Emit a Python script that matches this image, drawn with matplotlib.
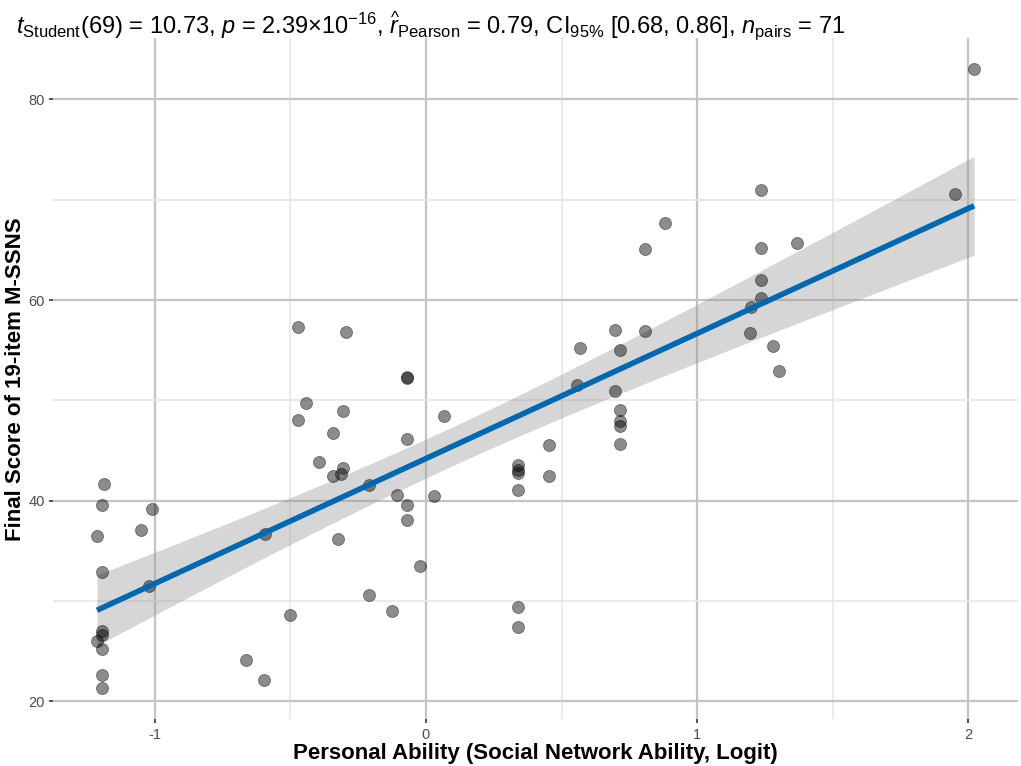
import numpy as np
import matplotlib
matplotlib.use("Agg")
import matplotlib.pyplot as plt

# values
ability = [-1.186, -1.194, -1.213, -1.193, -1.011, -1.049, -1.021, -1.193, -1.193, -1.213,
           -1.193, -1.193, -1.193, -0.665, -0.597, -0.593, -0.503, -0.443, -0.471, -0.304,
           -0.344, -0.396, -0.304, -0.314, -0.344, -0.210, -0.107, -0.069, -0.069, -0.069,
           -0.325, -0.022, -0.209, -0.124, 0.031, 0.066, -0.068, -0.068, -0.471, -0.296,
           0.341, 0.341, 0.341, 0.341, 0.455, 0.455, 0.341, 0.341, 0.568, 0.556,
           0.697, 0.808, 0.717, 0.697, 0.717, 0.717, 0.717, 0.717, 2.021, 1.237,
           0.882, 0.807, 1.234, 1.369, 1.951, 1.237, 1.234, 1.198, 1.196, 1.279, 1.303]
score = [41.7, 39.6, 36.5, 32.9, 39.2, 37.1, 31.5, 27.0, 26.6, 26.0,
         25.2, 22.6, 21.3, 24.1, 22.1, 36.7, 28.6, 49.75, 48.0, 48.9,
         46.7, 43.9, 43.3, 42.7, 42.5, 41.6, 40.6, 39.6, 38.1, 46.1,
         36.2, 33.5, 30.6, 29.0, 40.5, 48.4, 52.3, 52.2, 57.3, 56.8,
         43.6, 43.1, 42.8, 41.1, 45.6, 42.5, 29.4, 27.4, 55.2, 51.5,
         57.0, 56.9, 55.0, 50.9, 49.05, 47.9, 47.4, 45.7, 83.0, 71.0,
         67.7, 65.1, 65.2, 65.7, 70.6, 62.0, 60.2, 59.3, 56.7, 55.4, 52.9]

x_ticks = [-1, 0, 1, 2]
y_ticks = [20, 40, 60, 80]

plt.rcParams['font.family'] = ['Liberation Sans', 'DejaVu Sans']
plt.rcParams['mathtext.fontset'] = 'custom'
plt.rcParams['mathtext.rm'] = 'Liberation Sans'
plt.rcParams['mathtext.it'] = 'Liberation Sans:italic'
plt.rcParams['mathtext.bf'] = 'Liberation Sans:bold'

x = np.array(ability)
y = np.array(score)

# linear fit + 95% confidence band (like geom_smooth(method = "lm"))
n = len(x)
b, a = np.polyfit(x, y, 1)
xs = np.linspace(x.min(), x.max(), 200)
ys = a + b * xs
resid = y - (a + b * x)
s = np.sqrt(np.sum(resid ** 2) / (n - 2))
se = s * np.sqrt(1 / n + (xs - x.mean()) ** 2 / np.sum((x - x.mean()) ** 2))
tval = 1.9949  # t(0.975, 69)
lo = ys - tval * se
hi = ys + tval * se

fig = plt.figure(figsize=(10.21, 7.66), dpi=100)
ax = fig.add_axes([0.052, 0.061, 0.945, 0.889])

ax.fill_between(xs, lo, hi, color='#999999', alpha=0.4, linewidth=0, zorder=2)
ax.scatter(x, y, s=75, color='black', alpha=0.45, edgecolors='black',
           linewidths=0.6, zorder=3)
ax.plot(xs, ys, color='#0068B0', linewidth=4, solid_capstyle='butt', zorder=4)

xr = x.max() - x.min()
yr = y.max() - y.min()
ax.set_xlim(x.min() - 0.05 * xr, x.max() + 0.05 * xr)
ax.set_ylim(y.min() - 0.05 * yr, y.max() + 0.05 * yr)

ax.set_xticks(x_ticks)
ax.set_xticklabels([str(t) for t in x_ticks])
ax.set_yticks(y_ticks)
ax.set_yticklabels([str(t) for t in y_ticks])
ax.set_xticks([-0.5, 0.5, 1.5], minor=True)
ax.set_yticks([30, 50, 70], minor=True)

ax.grid(which='major', color='#C4C4C4', linewidth=1.6, zorder=0)
ax.grid(which='minor', color='#E6E6E6', linewidth=1.2, zorder=0)
ax.set_axisbelow(True)
for sp in ax.spines.values():
    sp.set_visible(False)
ax.tick_params(which='major', length=3, width=1.2, color='#333333',
               labelsize=10.5, labelcolor='#4D4D4D', pad=3)
ax.tick_params(which='minor', length=0)

ax.set_xlabel('Personal Ability (Social Network Ability, Logit)', fontsize=16,
              fontweight='bold', labelpad=1)
ax.set_ylabel('Final Score of 19-item M-SSNS', fontsize=16, fontweight='bold',
              labelpad=2)

title = (r'$t_{\mathrm{Student}}$(69) = 10.73, $p$ = 2.39×10$^{-16}$, '
         r'$\widehat{r}_{\mathrm{Pearson}}$ = 0.79, CI$_{\mathrm{95\%}}$ [0.68, 0.86], '
         r'$n_{\mathrm{pairs}}$ = 71')
fig.text(0.016, 0.966, title, fontsize=17, ha='left', va='center')

fig.savefig('out.png', dpi=100, facecolor='white')
